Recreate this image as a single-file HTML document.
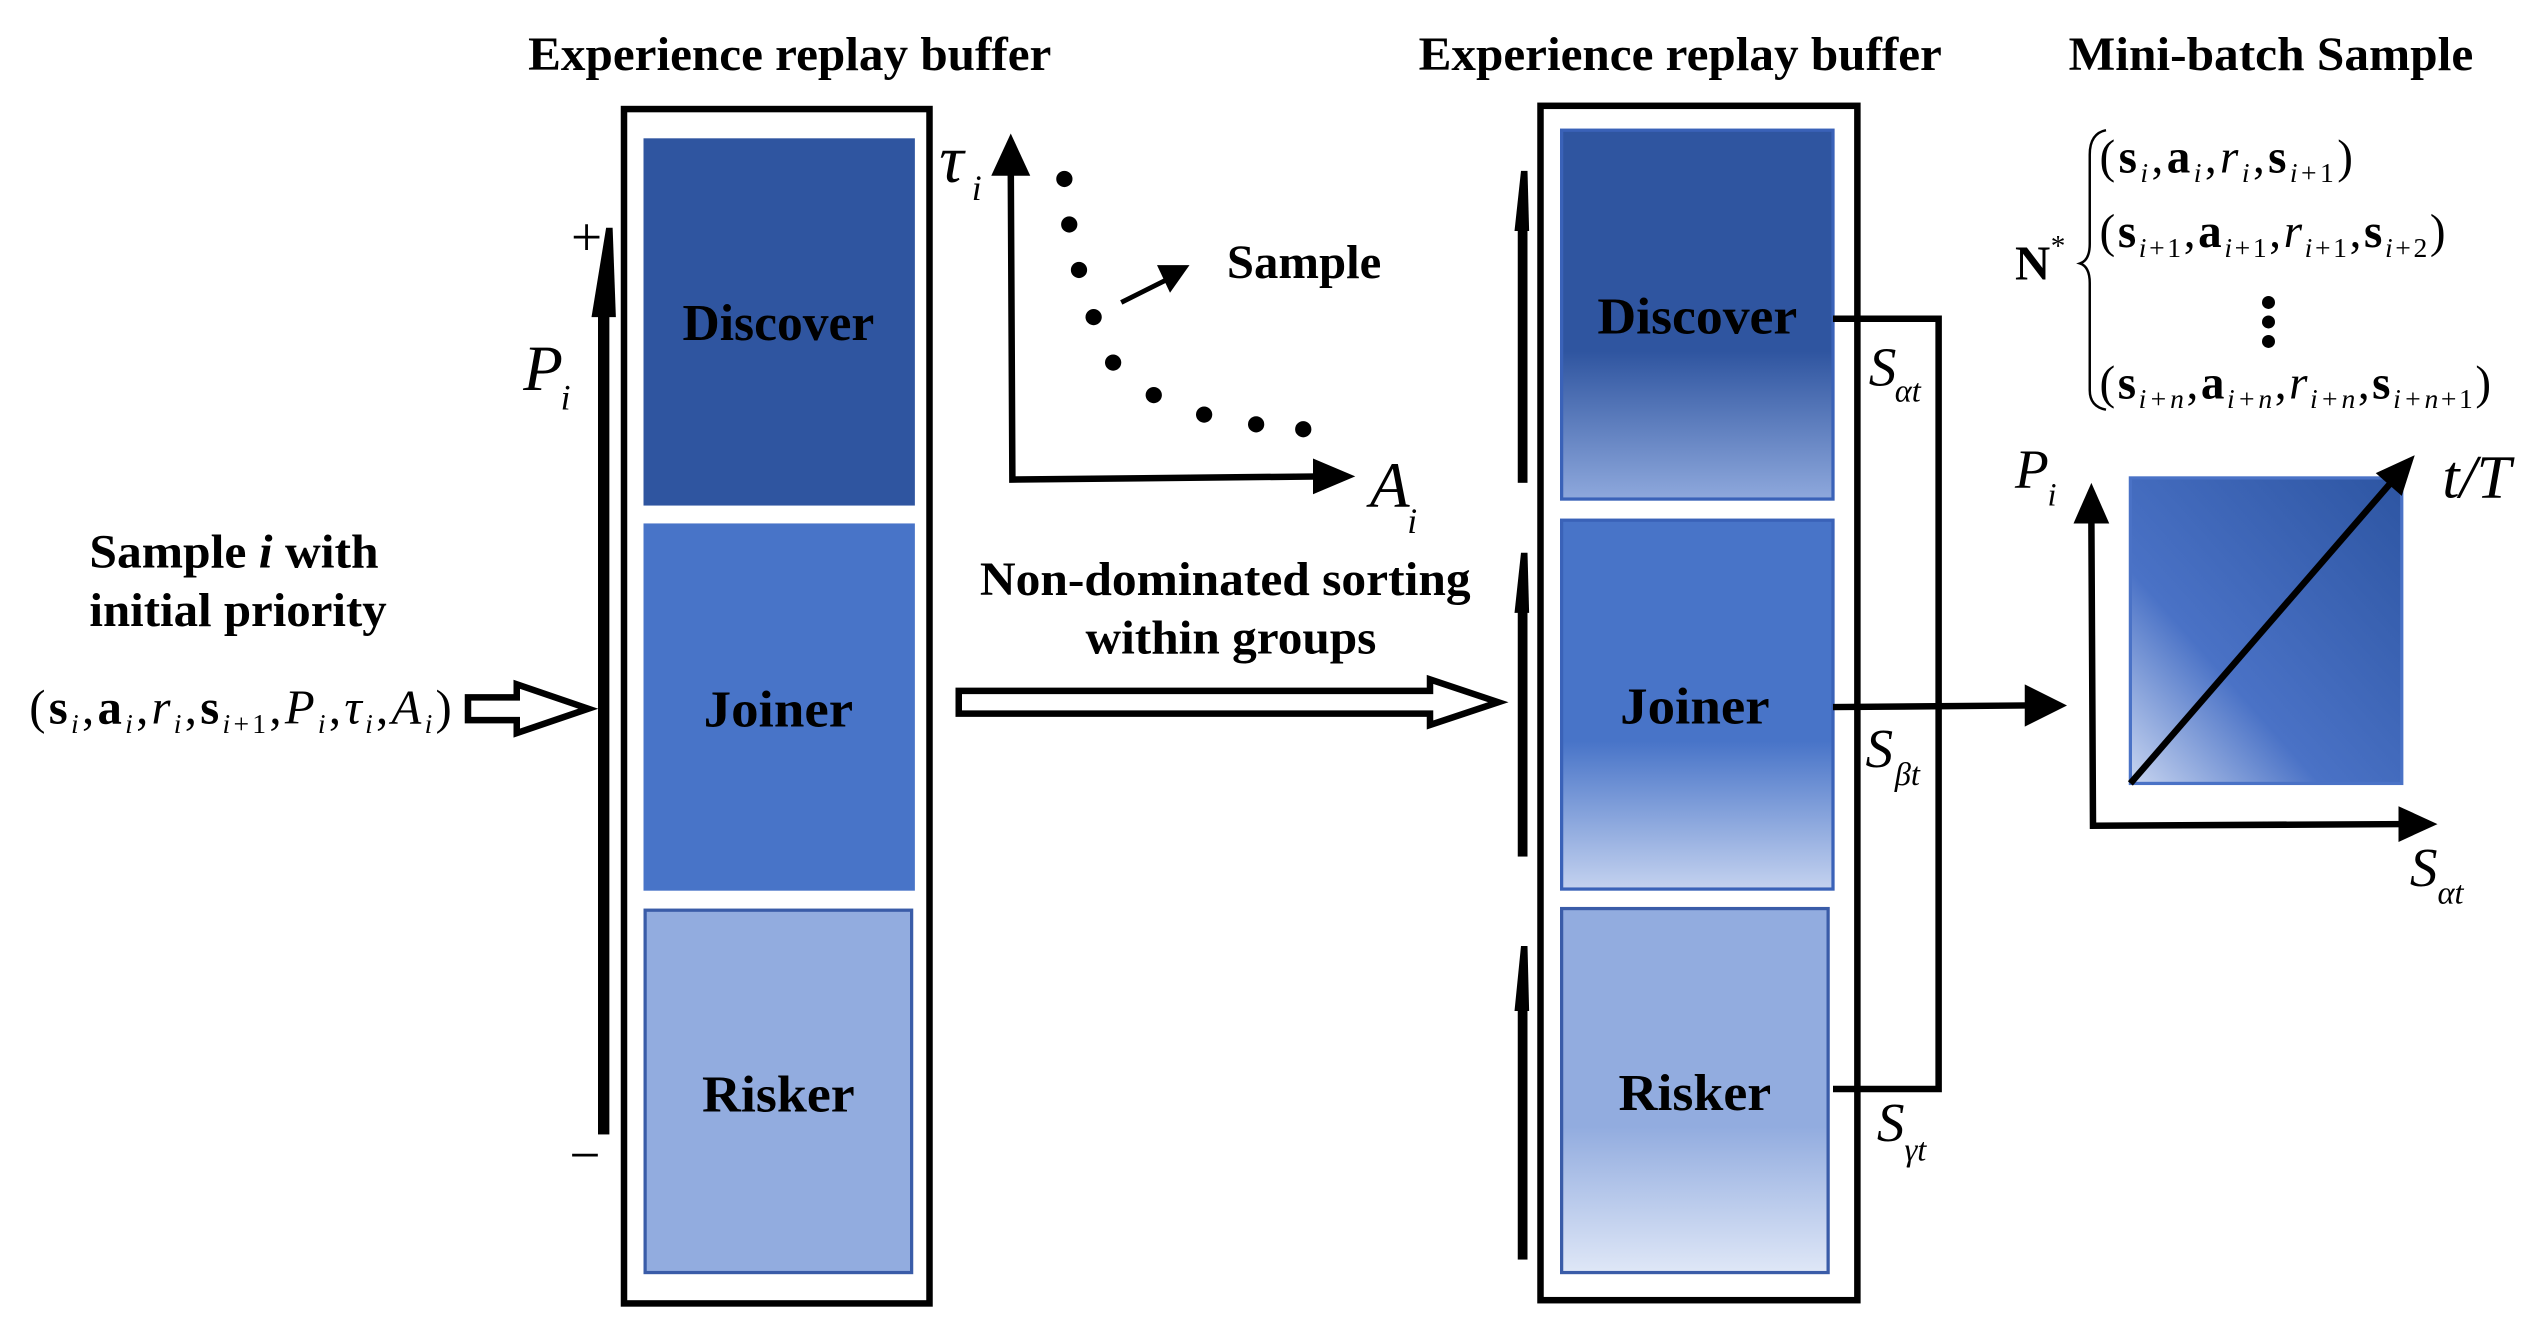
<!DOCTYPE html>
<html><head><meta charset="utf-8"><style>
html,body{margin:0;padding:0;background:#fff;}
svg{display:block;}
text{font-family:"Liberation Serif",serif;}
.b{font-weight:bold;}
.it{font-style:italic;}
</style></head><body>
<svg width="2535" height="1328" viewBox="0 0 1560 817" xmlns="http://www.w3.org/2000/svg">
<defs>
<linearGradient id="g1" x1="0" y1="0" x2="0" y2="1">
<stop offset="0.6" stop-color="#2f55a0"/><stop offset="1" stop-color="#8ea8dc"/></linearGradient>
<linearGradient id="g2" x1="0" y1="0" x2="0" y2="1">
<stop offset="0.6" stop-color="#4874c8"/><stop offset="1" stop-color="#c4d2ef"/></linearGradient>
<linearGradient id="g3" x1="0" y1="0" x2="0" y2="1">
<stop offset="0.6" stop-color="#92acdf"/><stop offset="1" stop-color="#dfe7f7"/></linearGradient>
<linearGradient id="g4" x1="0" y1="1" x2="1" y2="0">
<stop offset="0" stop-color="#c8d5f0"/><stop offset="0.35" stop-color="#4a72c6"/><stop offset="1" stop-color="#2d55a2"/></linearGradient>
</defs>

<text x="325" y="43" class="b" font-size="29" textLength="322" lengthAdjust="spacingAndGlyphs">Experience replay buffer</text>
<text x="873" y="43" class="b" font-size="29" textLength="322" lengthAdjust="spacingAndGlyphs">Experience replay buffer</text>
<text x="1273" y="43" class="b" font-size="29" textLength="249" lengthAdjust="spacingAndGlyphs">Mini-batch Sample</text>

<!-- left buffer -->
<rect x="384" y="67" width="188" height="735" fill="none" stroke="#000" stroke-width="4"/>
<rect x="396" y="85" width="167" height="226" fill="#2f55a0"/>
<rect x="396" y="322" width="167" height="226" fill="#4874c8"/>
<rect x="397" y="560" width="164" height="223" fill="#92acdf" stroke="#3a5ca8" stroke-width="2"/>
<text x="420" y="209" class="b" font-size="32" textLength="118" lengthAdjust="spacingAndGlyphs">Discover</text>
<text x="433" y="447" class="b" font-size="32" textLength="92" lengthAdjust="spacingAndGlyphs">Joiner</text>
<text x="432" y="684" class="b" font-size="32" textLength="94" lengthAdjust="spacingAndGlyphs">Risker</text>

<!-- Pi arrow -->
<rect x="368" y="190" width="7" height="508" fill="#000"/>
<polygon points="364,195 379,195 377,140 373,140" fill="#000"/>
<text x="361" y="157" text-anchor="middle" font-size="34">+</text>
<text x="360" y="722" text-anchor="middle" font-size="34">−</text>
<text x="322" y="240" class="it" font-size="40">P</text>
<text x="345" y="252" class="it" font-size="22">i</text>

<text x="55" y="349" class="b" font-size="29" textLength="178" lengthAdjust="spacingAndGlyphs">Sample <tspan class="it">i</tspan> with</text>
<text x="55" y="385" class="b" font-size="29" textLength="183" lengthAdjust="spacingAndGlyphs">initial priority</text>
<text x="18" y="445" font-size="30" textLength="260" lengthAdjust="spacing">(<tspan class="b">s</tspan><tspan class="it" font-size="17" dy="6">i</tspan><tspan dy="-6">,</tspan><tspan class="b">a</tspan><tspan class="it" font-size="17" dy="6">i</tspan><tspan dy="-6">,</tspan><tspan class="it">r</tspan><tspan class="it" font-size="17" dy="6">i</tspan><tspan dy="-6">,</tspan><tspan class="b">s</tspan><tspan font-size="17" dy="6"><tspan class="it">i</tspan>+1</tspan><tspan dy="-6">,</tspan><tspan class="it">P</tspan><tspan class="it" font-size="17" dy="6">i</tspan><tspan dy="-6">,</tspan><tspan class="it">τ</tspan><tspan class="it" font-size="17" dy="6">i</tspan><tspan dy="-6">,</tspan><tspan class="it">A</tspan><tspan class="it" font-size="17" dy="6">i</tspan><tspan dy="-6">)</tspan></text>
<polygon points="288,429 318,429 318,421 362,436 318,451 318,443 288,443" fill="#fff" stroke="#000" stroke-width="4"/>

<!-- tau plot -->
<polyline points="622,100 623,295 820,293" fill="none" stroke="#000" stroke-width="4"/>
<polygon points="610,108 622,82 634,108" fill="#000"/>
<polygon points="808,282 834,293 808,304" fill="#000"/>
<g fill="#000">
<circle cx="655" cy="110" r="5"/><circle cx="658" cy="138" r="5"/><circle cx="664" cy="166" r="5"/>
<circle cx="673" cy="195" r="5"/><circle cx="685" cy="223" r="5"/><circle cx="710" cy="243" r="5"/>
<circle cx="741" cy="255" r="5"/><circle cx="773" cy="261" r="5"/><circle cx="802" cy="264" r="5"/>
</g>
<line x1="690" y1="186" x2="718" y2="172" stroke="#000" stroke-width="3"/>
<polygon points="712,163 732,163 720,180" fill="#000"/>
<text x="755" y="171" class="b" font-size="29" textLength="95" lengthAdjust="spacingAndGlyphs">Sample</text>
<text x="578" y="112" class="it" font-size="42">τ</text>
<text x="598" y="123" class="it" font-size="22">i</text>
<text x="843" y="312" class="it" font-size="40">A</text>
<text x="866" y="328" class="it" font-size="22">i</text>

<text x="603" y="366" class="b" font-size="29" textLength="302" lengthAdjust="spacingAndGlyphs">Non-dominated sorting</text>
<text x="668" y="402" class="b" font-size="29" textLength="179" lengthAdjust="spacingAndGlyphs">within groups</text>
<polygon points="590,425 880,425 880,418 922,432 880,446 880,439 590,439" fill="#fff" stroke="#000" stroke-width="4"/>

<!-- right buffer -->
<rect x="948" y="65" width="195" height="735" fill="none" stroke="#000" stroke-width="4"/>
<rect x="961" y="80" width="167" height="227" fill="url(#g1)" stroke="#3a62b8" stroke-width="2"/>
<rect x="961" y="320" width="167" height="227" fill="url(#g2)" stroke="#3a62b8" stroke-width="2"/>
<rect x="961" y="559" width="164" height="224" fill="url(#g3)" stroke="#3a5ca8" stroke-width="2"/>
<text x="983" y="205" class="b" font-size="32" textLength="123" lengthAdjust="spacingAndGlyphs">Discover</text>
<text x="997" y="445" class="b" font-size="32" textLength="92" lengthAdjust="spacingAndGlyphs">Joiner</text>
<text x="996" y="683" class="b" font-size="32" textLength="94" lengthAdjust="spacingAndGlyphs">Risker</text>

<g fill="#000">
<rect x="934" y="140" width="6" height="157"/><polygon points="932,142 941,142 940,105 936,105"/>
<rect x="934" y="375" width="6" height="152"/><polygon points="932,377 941,377 940,340 936,340"/>
<rect x="934" y="620" width="6" height="155"/><polygon points="932,622 941,622 940,582 936,582"/>
</g>

<polyline points="1128,196 1193,196 1193,670 1128,670" fill="none" stroke="#000" stroke-width="4"/>
<line x1="1128" y1="435" x2="1248" y2="434" stroke="#000" stroke-width="4"/>
<polygon points="1246,421 1272,434 1246,447" fill="#000"/>
<text x="1150" y="237" class="it" font-size="34">S</text><text x="1166" y="247" class="it" font-size="20">αt</text>
<text x="1148" y="472" class="it" font-size="34">S</text><text x="1166" y="483" class="it" font-size="20">βt</text>
<text x="1155" y="702" class="it" font-size="34">S</text><text x="1172" y="714" class="it" font-size="20">γt</text>

<!-- mini-batch -->
<text x="1240" y="172" class="b" font-size="30">N</text><text x="1262" y="157" font-size="18">*</text>
<path d="M1296,80 Q1286,82 1286,95 L1286,150 Q1286,160 1280,162 Q1286,164 1286,174 L1286,240 Q1286,250 1296,252" fill="none" stroke="#000" stroke-width="1.5"/>
<g font-size="29">
<text x="1292" y="106" textLength="156" lengthAdjust="spacing">(<tspan class="b">s</tspan><tspan class="it" font-size="17" dy="6">i</tspan><tspan dy="-6">,</tspan><tspan class="b">a</tspan><tspan class="it" font-size="17" dy="6">i</tspan><tspan dy="-6">,</tspan><tspan class="it">r</tspan><tspan class="it" font-size="17" dy="6">i</tspan><tspan dy="-6">,</tspan><tspan class="b">s</tspan><tspan font-size="17" dy="6"><tspan class="it">i</tspan>+1</tspan><tspan dy="-6">)</tspan></text>
<text x="1292" y="152" textLength="213" lengthAdjust="spacing">(<tspan class="b">s</tspan><tspan font-size="17" dy="6"><tspan class="it">i</tspan>+1</tspan><tspan dy="-6">,</tspan><tspan class="b">a</tspan><tspan font-size="17" dy="6"><tspan class="it">i</tspan>+1</tspan><tspan dy="-6">,</tspan><tspan class="it">r</tspan><tspan font-size="17" dy="6"><tspan class="it">i</tspan>+1</tspan><tspan dy="-6">,</tspan><tspan class="b">s</tspan><tspan font-size="17" dy="6"><tspan class="it">i</tspan>+2</tspan><tspan dy="-6">)</tspan></text>
<text x="1292" y="245" textLength="241" lengthAdjust="spacing">(<tspan class="b">s</tspan><tspan font-size="17" dy="6" class="it">i+n</tspan><tspan dy="-6">,</tspan><tspan class="b">a</tspan><tspan font-size="17" dy="6" class="it">i+n</tspan><tspan dy="-6">,</tspan><tspan class="it">r</tspan><tspan font-size="17" dy="6" class="it">i+n</tspan><tspan dy="-6">,</tspan><tspan class="b">s</tspan><tspan font-size="17" dy="6"><tspan class="it">i+n</tspan>+1</tspan><tspan dy="-6">)</tspan></text>
</g>
<g fill="#000"><circle cx="1396" cy="186" r="4"/><circle cx="1396" cy="198" r="4"/><circle cx="1396" cy="210" r="4"/></g>

<rect x="1311" y="294" width="167" height="188" fill="url(#g4)" stroke="#4a72c6" stroke-width="2"/>
<polyline points="1287,320 1288,508 1482,507" fill="none" stroke="#000" stroke-width="4"/>
<polygon points="1276,322 1287,297 1298,322" fill="#000"/>
<polygon points="1476,496 1500,507 1476,518" fill="#000"/>
<line x1="1311" y1="482" x2="1473" y2="295" stroke="#000" stroke-width="4"/>
<polygon points="1462,291 1486,280 1478,305" fill="#000"/>
<text x="1240" y="300" class="it" font-size="34">P</text><text x="1260" y="311" class="it" font-size="20">i</text>
<text x="1503" y="306" class="it" font-size="38">t/T</text>
<text x="1483" y="545" class="it" font-size="34">S</text><text x="1500" y="556" class="it" font-size="20">αt</text>
</svg>
</body></html>
